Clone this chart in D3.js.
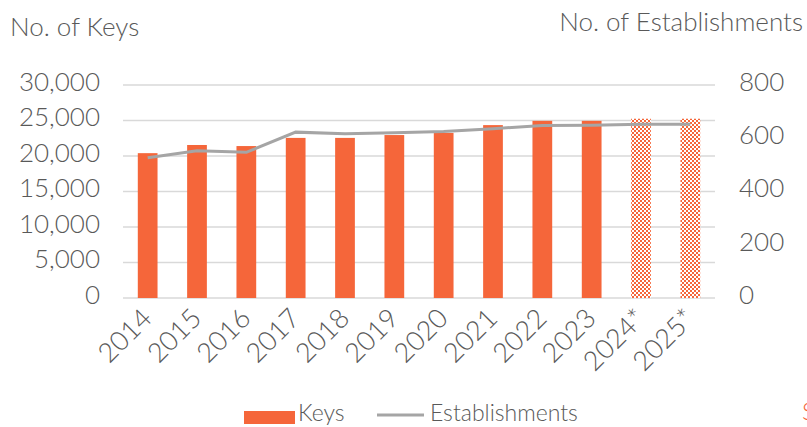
<!DOCTYPE html>
<html>
<head>
<meta charset="utf-8">
<script src="https://cdn.jsdelivr.net/npm/d3@7"></script>
<style>
  body { margin: 0; background: #fff; }
  text { font-family: "Lato", "Noto Sans", sans-serif; font-weight: 300; fill: #595959; }
</style>
</head>
<body>
<div id="chart"></div>
<script>
var years = ["2014", "2015", "2016", "2017", "2018", "2019", "2020", "2021", "2022", "2023", "2024*", "2025*"];
var keys = [20400, 21550, 21400, 22550, 22550, 22950, 23250, 24350, 24950, 24950, 25250, 25250];
var establishments = [527, 553, 547, 623, 617, 621, 625, 636, 648, 649, 653, 653];
var forecast = [false, false, false, false, false, false, false, false, false, false, true, true];
var leftTicks = [0, 5000, 10000, 15000, 20000, 25000, 30000];
var rightTicks = [0, 200, 400, 600, 800];

var width = 807, height = 427;
var orange = "#f5663a";

var svg = d3.select("#chart").append("svg")
  .attr("width", width)
  .attr("height", height);

// checkerboard fill for the forecast years
var pat = svg.append("defs").append("pattern")
  .attr("id", "checks")
  .attr("patternUnits", "userSpaceOnUse")
  .attr("width", 4).attr("height", 4);
pat.append("rect").attr("width", 4).attr("height", 4).attr("fill", "#fff");
pat.append("rect").attr("width", 2).attr("height", 2).attr("fill", orange);
pat.append("rect").attr("x", 2).attr("y", 2).attr("width", 2).attr("height", 2).attr("fill", orange);

var x = d3.scaleBand().domain(years).range([123, 715]).paddingInner(0.6).paddingOuter(0.3);
var yL = d3.scaleLinear().domain([0, 30000]).range([298, 85]);
var yR = d3.scaleLinear().domain([0, 800]).range([298, 85]);

// gridlines
svg.append("g").selectAll("line")
  .data(leftTicks)
  .enter().append("line")
  .attr("x1", 123).attr("x2", 715)
  .attr("y1", d => yL(d)).attr("y2", d => yL(d))
  .attr("stroke", "#d9d9d9")
  .attr("stroke-width", 1.5);

// left axis
var leftAxis = svg.append("g")
  .attr("transform", "translate(100,0)")
  .call(d3.axisLeft(yL).tickValues(leftTicks).tickFormat(d3.format(",")).tickSize(0).tickPadding(0));
leftAxis.select(".domain").remove();
leftAxis.selectAll("text").style("font-size", "26px").attr("dy", "0.32em").attr("y", -3).attr("x", 0);

// right axis
var rightAxis = svg.append("g")
  .attr("transform", "translate(739,0)")
  .call(d3.axisRight(yR).tickValues(rightTicks).tickSize(0).tickPadding(0));
rightAxis.select(".domain").remove();
rightAxis.selectAll("text").style("font-size", "26px").attr("dy", "0.32em").attr("y", -3).attr("x", 0);

// bars
svg.append("g").selectAll("rect")
  .data(years)
  .enter().append("rect")
  .attr("x", d => x(d))
  .attr("width", x.bandwidth())
  .attr("y", (d, i) => yL(keys[i]))
  .attr("height", (d, i) => yL(0) - yL(keys[i]))
  .attr("fill", (d, i) => forecast[i] ? "url(#checks)" : orange);

// establishments line
var line = d3.line()
  .x((d, i) => x(years[i]) + x.bandwidth() / 2)
  .y(d => yR(d));
svg.append("path")
  .datum(establishments)
  .attr("d", line)
  .attr("fill", "none")
  .attr("stroke", "#a5a5a5")
  .attr("stroke-width", 3);

// x labels
svg.append("g").selectAll("text")
  .data(years)
  .enter().append("text")
  .attr("transform", d => "translate(" + (x(d) + x.bandwidth() / 2 + 6) + ",320) rotate(-45)")
  .attr("text-anchor", "end")
  .style("font-size", "27px")
  .text(d => d);

// titles
svg.append("text").attr("x", 10).attr("y", 36).style("font-size", "26px").text("No. of Keys");
svg.append("text").attr("x", 803).attr("y", 31).attr("text-anchor", "end").style("font-size", "26px").text("No. of Establishments");

// legend
var legend = svg.append("g").attr("class", "legend");
legend.append("rect").attr("x", 244).attr("y", 411).attr("width", 51).attr("height", 13).attr("fill", orange);
legend.append("text").attr("x", 298).attr("y", 421).style("font-size", "23px").text("Keys");
legend.append("line").attr("x1", 377).attr("x2", 424).attr("y1", 415).attr("y2", 415)
  .attr("stroke", "#a5a5a5").attr("stroke-width", 3);
legend.append("text").attr("x", 430).attr("y", 421).style("font-size", "23px").text("Establishments");

// cut-off source note at the right edge
svg.append("text").attr("x", 802).attr("y", 420).style("font-size", "24px").style("fill", orange).text("Source");
</script>
</body>
</html>
